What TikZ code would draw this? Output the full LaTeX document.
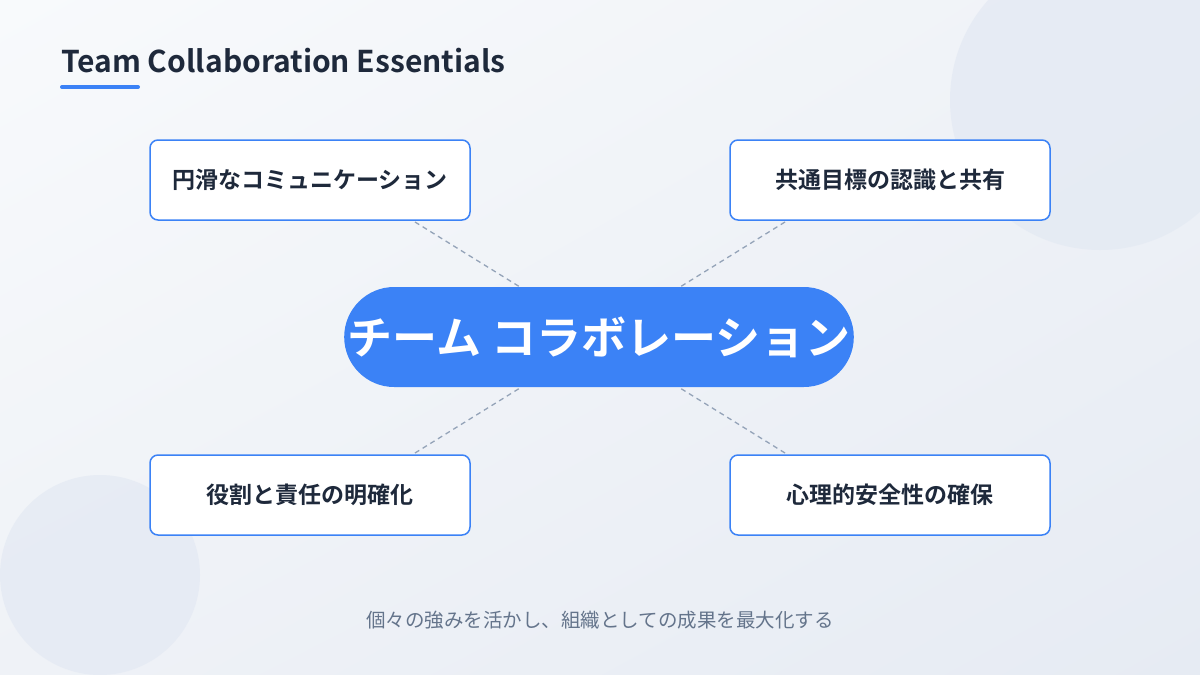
\documentclass[tikz,border=0pt]{standalone}
\usepackage{fontspec}
\usetikzlibrary{shadings}
\setmainfont{Noto Sans}
\newfontfamily\jp{Noto Sans CJK JP}
\newfontfamily\jpb{Noto Sans CJK JP Bold}
\definecolor{navy}{HTML}{1E293B}
\definecolor{blu}{HTML}{3B82F6}
\definecolor{gry}{HTML}{64748B}
\definecolor{lin}{HTML}{94A3B8}
\definecolor{bg1}{HTML}{F8FAFC}
\definecolor{bg2}{HTML}{E6EBF3}
\definecolor{bg3}{HTML}{EFF2F7}
\definecolor{circ}{HTML}{E3E9F3}
\begin{document}
\begin{tikzpicture}[x=1pt,y=-1pt,
  card/.style={draw=blu,line width=1.5pt,fill=white,rounded corners=8pt,minimum width=320pt,minimum height=80pt,font=\jpb\fontsize{23}{26}\selectfont,text=navy},
  conn/.style={draw=lin,line width=1.3pt,dash pattern=on 5pt off 4pt}]
\useasboundingbox (0,0) rectangle (1200,675);
\shade[upper left=bg1,lower right=bg2,upper right=bg3,lower left=bg3] (0,0) rectangle (1200,675);
\fill[circ,opacity=0.7] (1100,100) circle (150);
\fill[circ,opacity=0.7] (100,575) circle (100);
\node[anchor=base west,inner sep=0pt,font=\jpb\fontsize{30}{34}\selectfont,text=navy] (title) at (61,72) {Team Collaboration Essentials};
\draw[blu,line width=4pt,line cap=round] (62,87) -- (138,87);
\coordinate (a1) at (415,222); \coordinate (b1) at (520,287);
\coordinate (a2) at (785,222); \coordinate (b2) at (680,287);
\coordinate (a3) at (415,453); \coordinate (b3) at (520,388);
\coordinate (a4) at (785,453); \coordinate (b4) at (680,388);
\draw[conn] (a1)--(b1); \draw[conn] (a2)--(b2); \draw[conn] (a3)--(b3); \draw[conn] (a4)--(b4);
\node[fill=blu,rounded corners=50pt,minimum width=438pt,minimum height=100pt,text=white,font=\jpb\fontsize{45}{48}\selectfont] (c) at (599,337) {チーム コラボレーション};
\node[card] (tl) at (310,180) {円滑なコミュニケーション};
\node[card] (tr) at (890,180) {共通目標の認識と共有};
\node[card] (bl) at (310,495) {役割と責任の明確化};
\node[card] (br) at (890,495) {心理的安全性の確保};
\node[text=gry,font=\jp\fontsize{19.5}{23}\selectfont] (cap) at (600,620) {個々の強みを活かし、組織としての成果を最大化する};
\end{tikzpicture}
\end{document}
